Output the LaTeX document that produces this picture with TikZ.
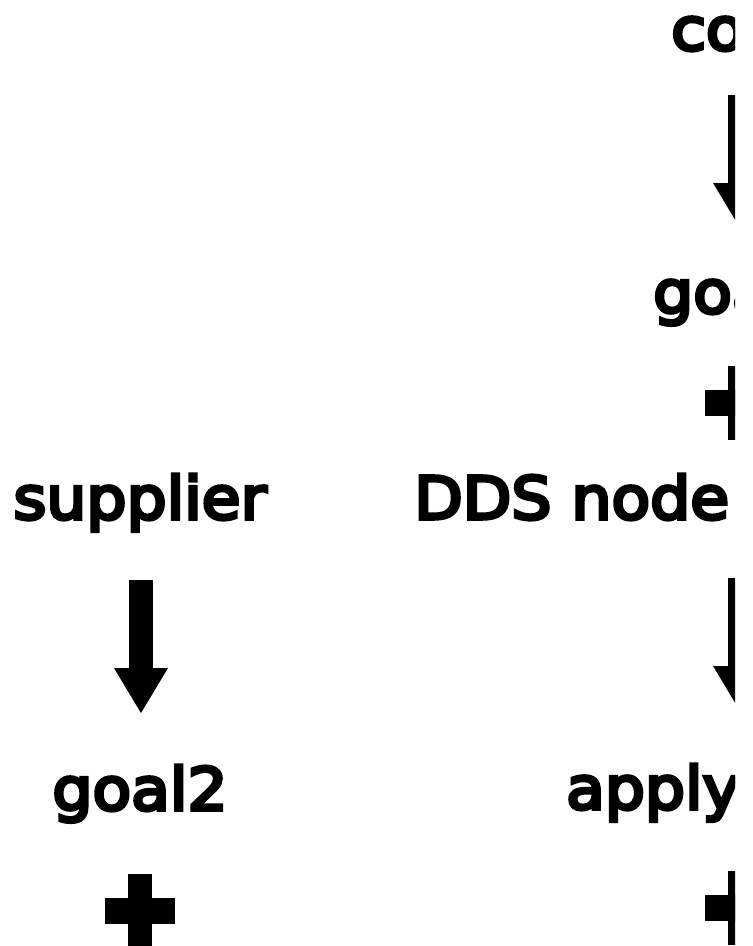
\documentclass[tikz,border=0pt]{standalone}
\usepackage{fontspec}
\setmainfont{DejaVu Sans}
\newfontfamily\labelfont[FakeStretch=1.07,FakeBold=6]{DejaVu Sans}
\usetikzlibrary{arrows.meta}

\tikzset{
  lbl/.style={inner sep=0pt, font=\labelfont\fontsize{59}{70}\selectfont},
  blockarrow/.style={line width=24pt, -{Triangle[length=45pt,width=54pt,line width=0pt]}},
  pics/heavyplus/.style={code={
    \fill (-35,-13) rectangle (35,13);
    \fill (-12,-37) rectangle (12,37);
  }}
}

\begin{document}
\begin{tikzpicture}[x=1pt,y=-1pt]
  \useasboundingbox (0,0) rectangle (753,946);

  % left column
  \node[lbl, anchor=base] (supplier) at (140,519) {supplier};
  \node[lbl, anchor=base] (goal2) at (140,810) {goal2};
  \coordinate (supplierout) at (141,580);
  \coordinate (goaltwoin) at (141,713);
  \draw[blockarrow] (supplierout) -- (goaltwoin);
  \coordinate (plusL) at (140,911);
  \pic at (plusL) {heavyplus};

  % right column, cut off at the right edge
  \begin{scope}
    \clip (0,0) rectangle (735,946);
    \node[lbl, anchor=base west] (co) at (671,50) {co};
    \node[lbl, anchor=base west] (goa) at (653,313) {goa};
    \node[lbl, anchor=base west] (dds) at (414,519) {DDS node};
    \node[lbl, anchor=base west] (apply) at (566,809) {apply};

    \coordinate (coout) at (740,95);
    \coordinate (goain) at (740,228);
    \draw[blockarrow] (coout) -- (goain);

    \coordinate (ddsout) at (740,578);
    \coordinate (applyin) at (740,711);
    \draw[blockarrow] (ddsout) -- (applyin);

    \coordinate (plusR1) at (740,403);
    \pic at (plusR1) {heavyplus};
    \coordinate (plusR2) at (740,908);
    \pic at (plusR2) {heavyplus};
  \end{scope}
\end{tikzpicture}
\end{document}
